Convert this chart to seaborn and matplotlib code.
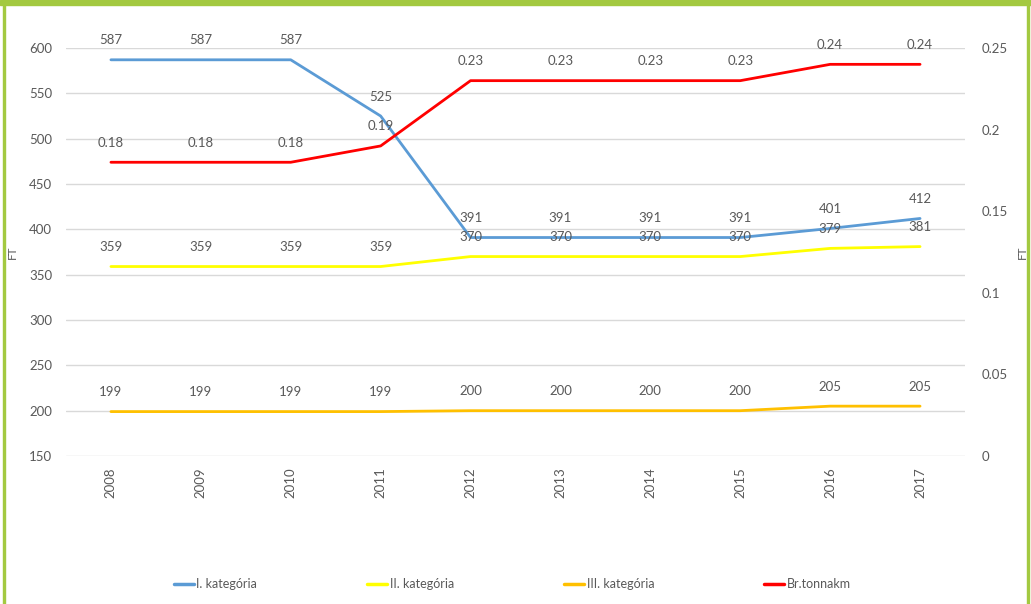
import pandas as pd
import seaborn as sns
import matplotlib.pyplot as plt
from matplotlib.lines import Line2D
from matplotlib.patches import Rectangle

years = ["2008", "2009", "2010", "2011", "2012", "2013", "2014", "2015", "2016", "2017"]
cat1 = [587, 587, 587, 525, 391, 391, 391, 391, 401, 412]
cat2 = [359, 359, 359, 359, 370, 370, 370, 370, 379, 381]
cat3 = [199, 199, 199, 199, 200, 200, 200, 200, 205, 205]
tonnakm = [0.18, 0.18, 0.18, 0.19, 0.23, 0.23, 0.23, 0.23, 0.24, 0.24]

names = ["I. kategória", "II. kategória", "III. kategória", "Br.tonnakm"]
colors = {"I. kategória": "#5B9BD5", "II. kategória": "#FFFF00",
          "III. kategória": "#FFC000", "Br.tonnakm": "#FF0000"}

df_left = pd.DataFrame({
    "year": years * 3,
    "value": cat1 + cat2 + cat3,
    "series": [names[0]] * 10 + [names[1]] * 10 + [names[2]] * 10,
})
df_right = pd.DataFrame({"year": years, "value": tonnakm, "series": names[3]})

sns.set_style("white")
plt.rcParams["font.family"] = ["Lato", "DejaVu Sans"]
grey = "#595959"

fig = plt.figure(figsize=(10.31, 6.04), dpi=100)
ax = fig.add_axes([0.064, 0.245, 0.872, 0.6755])
ax2 = ax.twinx()

sns.lineplot(data=df_left, x="year", y="value", hue="series", palette=colors,
             linewidth=2, ax=ax, legend=False, sort=False)
sns.lineplot(data=df_right, x="year", y="value", color=colors[names[3]],
             linewidth=2, ax=ax2, legend=False, sort=False)

ax.set_xlim(-0.5, 9.5)
ax.set_ylim(150, 600)
ax2.set_ylim(0, 0.25)
ax.set_yticks(range(150, 601, 50))
ax2.set_yticks([0, 0.05, 0.1, 0.15, 0.2, 0.25])
ax2.set_yticklabels(["0", "0.05", "0.1", "0.15", "0.2", "0.25"])

ax.grid(axis="y", color="#D9D9D9", linewidth=1)
ax.grid(axis="x", visible=False)
ax2.grid(False)
for a in (ax, ax2):
    for s in a.spines.values():
        s.set_visible(False)
    a.tick_params(length=0, colors=grey, labelsize=9.5)
ax.tick_params(axis="x", rotation=90, pad=8)
ax.tick_params(axis="y", pad=10)
ax2.tick_params(axis="y", pad=12)
ax.set_xlabel("")
ax.set_ylabel("FT", color=grey, fontsize=8.5)
ax2.set_ylabel("FT", color=grey, fontsize=8.5)
ax.yaxis.set_label_coords(-0.053, 0.5)
ax2.yaxis.set_label_coords(1.058, 0.5)

for vals, a in ((cat1, ax), (cat2, ax), (cat3, ax), (tonnakm, ax2)):
    for i, v in enumerate(vals):
        a.annotate(f"{v:g}", (i, v), xytext=(0, 14), textcoords="offset points",
                   ha="center", va="center", color=grey, fontsize=9.5)

handles = [Line2D([], [], color=colors[n], linewidth=2.5) for n in names]
fig.legend(handles, names, loc="center", bbox_to_anchor=(0.497, 0.033), ncol=4,
           frameon=False, fontsize=9, labelcolor=grey, handlelength=1.6,
           handletextpad=0.2, columnspacing=8.8)

border = "#A3C940"
fig.patches.append(Rectangle((0, 1 - 5 / 604), 1, 5 / 604, transform=fig.transFigure,
                             color=border, zorder=5))
fig.patches.append(Rectangle((3 / 1031, 0), 2 / 1031, 1, transform=fig.transFigure,
                             color=border, zorder=5))
fig.patches.append(Rectangle((1027 / 1031, 0), 2 / 1031, 1, transform=fig.transFigure,
                             color=border, zorder=5))

fig.savefig("out.png", dpi=100)
